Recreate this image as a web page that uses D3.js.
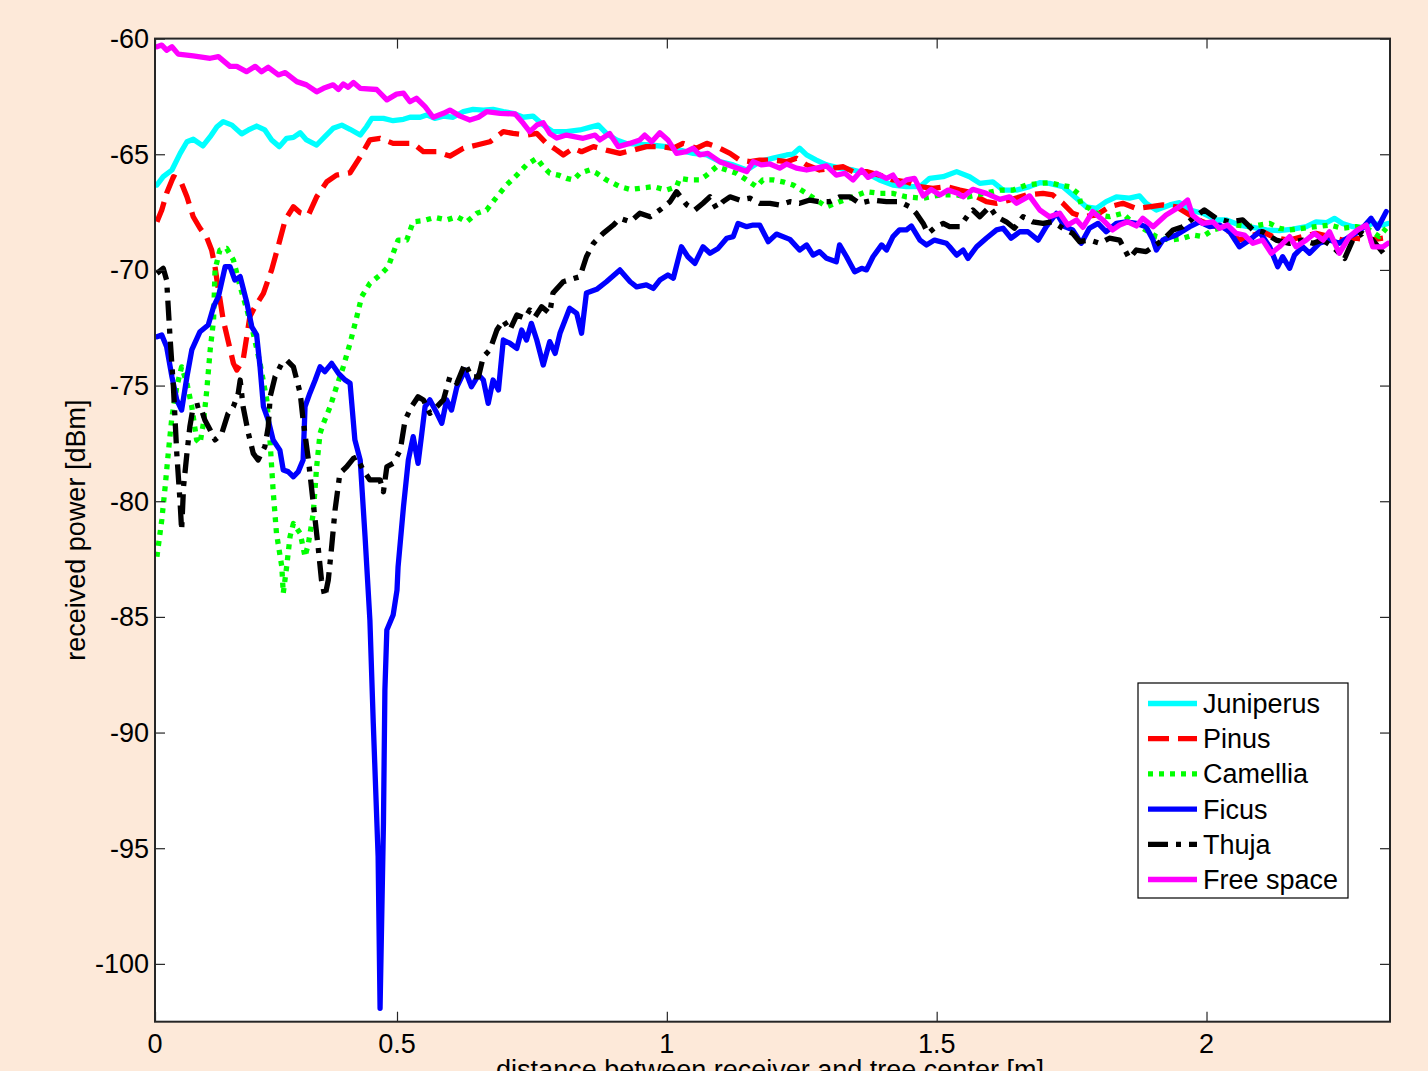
<!DOCTYPE html>
<html><head><meta charset="utf-8">
<script src="https://cdn.jsdelivr.net/npm/d3@7"></script>
<style>
html,body{margin:0;padding:0;background:#FDE9D9;}
svg{display:block;font-family:"Liberation Sans",Arial,Helvetica,sans-serif;}
</style></head>
<body>
<svg id="chart" width="1428" height="1071"></svg>
<script>
// ---- data (distance [m], received power [dBm]) ----
const xTicks = [0, 0.5, 1, 1.5, 2];
const xTickLabels = ["0", "0.5", "1", "1.5", "2"];
const yTicks = [-60, -65, -70, -75, -80, -85, -90, -95, -100];
const seriesNames = ["Juniperus", "Pinus", "Camellia", "Ficus", "Thuja", "Free space"];

const juniperus = [[0.004,-66.33],[0.017,-65.97],[0.035,-65.68],[0.052,-64.96],[0.066,-64.46],[0.079,-64.35],[0.099,-64.64],[0.114,-64.24],[0.128,-63.81],[0.141,-63.59],[0.159,-63.74],[0.179,-64.12],[0.193,-63.95],[0.210,-63.78],[0.227,-63.95],[0.241,-64.38],[0.257,-64.67],[0.272,-64.31],[0.286,-64.27],[0.300,-64.07],[0.313,-64.38],[0.334,-64.6],[0.351,-64.24],[0.368,-63.88],[0.386,-63.74],[0.403,-63.92],[0.424,-64.17],[0.437,-63.81],[0.448,-63.45],[0.472,-63.45],[0.492,-63.55],[0.512,-63.49],[0.524,-63.4],[0.543,-63.4],[0.555,-63.3],[0.570,-63.45],[0.586,-63.35],[0.604,-63.4],[0.623,-63.16],[0.641,-63.06],[0.660,-63.09],[0.678,-63.06],[0.697,-63.16],[0.715,-63.23],[0.734,-63.4],[0.752,-63.35],[0.771,-63.74],[0.789,-64.02],[0.814,-64.02],[0.839,-63.95],[0.857,-63.84],[0.873,-63.74],[0.888,-64.1],[0.907,-64.38],[0.925,-64.53],[0.944,-64.56],[0.969,-64.6],[0.999,-64.67],[1.024,-64.82],[1.049,-64.96],[1.074,-65.03],[1.098,-65.32],[1.123,-65.46],[1.148,-65.68],[1.172,-65.32],[1.197,-65.17],[1.222,-65.03],[1.234,-64.99],[1.246,-64.74],[1.259,-65.03],[1.277,-65.25],[1.296,-65.46],[1.320,-65.6],[1.345,-65.68],[1.370,-65.82],[1.394,-66.11],[1.419,-66.33],[1.444,-66.4],[1.469,-66.4],[1.487,-66.04],[1.512,-65.97],[1.537,-65.75],[1.561,-65.97],[1.580,-66.26],[1.604,-66.19],[1.623,-66.55],[1.648,-66.55],[1.672,-66.4],[1.691,-66.23],[1.709,-66.26],[1.734,-66.4],[1.759,-66.9],[1.777,-67.27],[1.796,-67.34],[1.814,-67.05],[1.833,-66.84],[1.857,-66.9],[1.876,-66.8],[1.888,-67.12],[1.907,-67.41],[1.932,-67.19],[1.950,-67.09],[1.969,-67.41],[1.993,-67.55],[2.018,-67.84],[2.037,-67.84],[2.061,-68.06],[2.086,-68.16],[2.111,-68.27],[2.135,-68.3],[2.160,-68.24],[2.185,-68.13],[2.203,-67.92],[2.222,-67.96],[2.237,-67.77],[2.252,-67.99],[2.271,-68.13],[2.289,-68.16],[2.308,-67.99],[2.327,-68.06],[2.336,-67.99]];

const pinus = [[0.004,-67.92],[0.014,-67.41],[0.024,-66.69],[0.038,-65.97],[0.052,-66.11],[0.066,-66.84],[0.079,-67.7],[0.093,-68.2],[0.107,-68.6],[0.117,-69.14],[0.124,-69.86],[0.128,-70.44],[0.141,-72.17],[0.162,-74.04],[0.169,-74.33],[0.182,-73.9],[0.196,-72.02],[0.203,-71.73],[0.224,-71.01],[0.241,-70.0],[0.258,-68.71],[0.269,-67.84],[0.286,-67.27],[0.300,-67.53],[0.317,-67.63],[0.334,-66.84],[0.355,-66.19],[0.375,-65.9],[0.403,-65.8],[0.424,-65.11],[0.444,-64.38],[0.465,-64.31],[0.492,-64.53],[0.512,-64.53],[0.530,-64.53],[0.549,-64.89],[0.574,-64.89],[0.598,-65.08],[0.623,-64.74],[0.648,-64.6],[0.672,-64.46],[0.697,-64.02],[0.715,-64.1],[0.740,-64.17],[0.759,-64.1],[0.777,-64.53],[0.796,-64.82],[0.808,-65.03],[0.827,-64.74],[0.842,-64.89],[0.864,-64.67],[0.888,-64.82],[0.913,-64.96],[0.938,-64.82],[0.962,-64.67],[0.987,-64.67],[1.012,-64.74],[1.030,-64.53],[1.055,-64.74],[1.074,-64.53],[1.092,-64.67],[1.117,-64.96],[1.135,-65.25],[1.154,-65.32],[1.172,-65.25],[1.197,-65.25],[1.222,-65.32],[1.240,-65.17],[1.259,-65.46],[1.283,-65.68],[1.308,-65.6],[1.327,-65.54],[1.345,-65.75],[1.370,-65.75],[1.394,-65.9],[1.419,-66.11],[1.444,-66.19],[1.469,-66.4],[1.493,-66.47],[1.518,-66.4],[1.543,-66.55],[1.558,-66.62],[1.574,-66.84],[1.592,-67.05],[1.611,-67.12],[1.635,-66.98],[1.666,-66.76],[1.697,-66.69],[1.715,-66.76],[1.734,-67.12],[1.752,-67.55],[1.771,-67.7],[1.796,-67.63],[1.820,-67.27],[1.845,-67.12],[1.870,-67.34],[1.894,-67.27],[1.919,-67.19],[1.944,-67.27],[1.969,-67.63],[1.993,-67.92],[2.018,-68.13],[2.043,-68.35],[2.061,-68.71],[2.080,-68.56],[2.104,-68.35],[2.129,-68.63],[2.154,-68.71],[2.178,-68.56],[2.203,-68.42],[2.228,-68.56],[2.252,-68.71],[2.277,-68.63],[2.302,-68.71],[2.327,-68.63]];

const camellia = [[0.004,-82.4],[0.014,-80.81],[0.021,-79.37],[0.028,-77.79],[0.035,-76.35],[0.045,-75.05],[0.055,-74.19],[0.066,-74.9],[0.076,-75.91],[0.086,-77.35],[0.093,-77.5],[0.100,-76.63],[0.107,-75.19],[0.114,-73.46],[0.121,-72.17],[0.124,-70.0],[0.134,-69.14],[0.148,-69.07],[0.162,-69.57],[0.176,-70.73],[0.190,-71.73],[0.203,-72.74],[0.217,-74.04],[0.231,-75.62],[0.238,-77.5],[0.244,-79.52],[0.251,-81.39],[0.262,-82.83],[0.265,-83.98],[0.272,-82.83],[0.279,-81.53],[0.286,-80.96],[0.300,-81.39],[0.310,-82.4],[0.317,-81.82],[0.327,-80.52],[0.334,-78.51],[0.341,-77.07],[0.348,-76.63],[0.362,-75.91],[0.375,-75.05],[0.389,-74.19],[0.403,-73.17],[0.417,-72.02],[0.427,-71.16],[0.444,-70.58],[0.465,-70.22],[0.482,-69.86],[0.492,-69.28],[0.502,-68.71],[0.518,-68.71],[0.530,-67.92],[0.549,-67.87],[0.570,-67.73],[0.592,-67.84],[0.611,-67.7],[0.629,-67.92],[0.648,-67.55],[0.666,-67.41],[0.685,-66.84],[0.703,-66.33],[0.722,-65.9],[0.740,-65.46],[0.759,-65.17],[0.771,-65.54],[0.783,-65.82],[0.799,-65.9],[0.814,-66.04],[0.827,-66.11],[0.839,-65.82],[0.857,-65.68],[0.870,-65.82],[0.888,-66.11],[0.913,-66.4],[0.932,-66.52],[0.950,-66.47],[0.975,-66.4],[0.999,-66.55],[1.018,-66.4],[1.024,-66.04],[1.043,-66.11],[1.061,-66.11],[1.074,-65.9],[1.092,-65.54],[1.111,-65.68],[1.129,-65.82],[1.148,-66.11],[1.166,-66.4],[1.178,-66.11],[1.197,-66.11],[1.215,-66.19],[1.234,-66.33],[1.259,-66.69],[1.277,-66.98],[1.296,-67.27],[1.320,-67.05],[1.345,-66.84],[1.370,-66.62],[1.394,-66.69],[1.419,-66.69],[1.444,-66.84],[1.475,-66.9],[1.506,-66.76],[1.537,-66.76],[1.558,-66.84],[1.587,-66.7],[1.617,-66.55],[1.641,-66.55],[1.666,-66.33],[1.691,-66.26],[1.709,-66.23],[1.728,-66.33],[1.746,-66.4],[1.762,-66.69],[1.768,-67.19],[1.783,-67.34],[1.802,-67.63],[1.820,-67.7],[1.845,-67.55],[1.864,-67.99],[1.882,-68.2],[1.907,-68.56],[1.932,-68.71],[1.956,-68.63],[1.975,-68.49],[1.993,-68.56],[2.012,-68.27],[2.037,-68.13],[2.055,-68.06],[2.080,-68.13],[2.098,-68.06],[2.117,-67.99],[2.135,-68.2],[2.154,-68.27],[2.178,-68.2],[2.203,-68.13],[2.228,-68.06],[2.252,-68.2],[2.277,-68.13],[2.302,-68.27],[2.320,-68.56],[2.333,-68.2]];

const ficus = [[0.004,-72.89],[0.014,-72.81],[0.024,-73.32],[0.035,-74.62],[0.045,-75.62],[0.055,-76.06],[0.066,-74.62],[0.076,-73.46],[0.093,-72.67],[0.110,-72.38],[0.121,-71.59],[0.131,-71.16],[0.145,-69.86],[0.155,-69.86],[0.165,-70.44],[0.176,-70.29],[0.190,-71.44],[0.200,-72.46],[0.210,-72.81],[0.217,-74.19],[0.224,-75.91],[0.234,-76.49],[0.244,-77.35],[0.258,-77.79],[0.265,-78.65],[0.275,-78.72],[0.286,-78.94],[0.296,-78.72],[0.306,-78.22],[0.310,-75.91],[0.320,-75.33],[0.331,-74.76],[0.341,-74.19],[0.351,-74.4],[0.365,-74.04],[0.379,-74.47],[0.393,-74.76],[0.403,-74.9],[0.413,-77.35],[0.424,-78.22],[0.434,-81.53],[0.444,-85.14],[0.451,-89.6],[0.461,-95.37],[0.465,-101.92],[0.472,-93.93],[0.475,-88.16],[0.479,-85.57],[0.492,-84.92],[0.500,-83.84],[0.502,-82.83],[0.512,-80.24],[0.521,-78.22],[0.530,-77.21],[0.539,-78.36],[0.546,-77.06],[0.552,-75.91],[0.561,-75.62],[0.574,-76.2],[0.583,-76.63],[0.592,-75.62],[0.601,-76.06],[0.611,-75.05],[0.626,-74.33],[0.638,-75.05],[0.651,-74.54],[0.660,-74.76],[0.669,-75.77],[0.678,-74.76],[0.688,-75.19],[0.697,-73.03],[0.709,-73.17],[0.722,-73.39],[0.731,-72.6],[0.740,-73.03],[0.749,-72.31],[0.759,-73.03],[0.771,-74.11],[0.783,-73.1],[0.793,-73.61],[0.802,-72.74],[0.820,-71.66],[0.833,-71.88],[0.842,-72.74],[0.851,-71.0],[0.870,-70.84],[0.888,-70.51],[0.913,-70.0],[0.932,-70.51],[0.944,-70.73],[0.962,-70.65],[0.975,-70.8],[0.987,-70.44],[1.002,-70.22],[1.012,-70.36],[1.027,-69.0],[1.039,-69.43],[1.052,-69.72],[1.067,-69.0],[1.080,-69.28],[1.095,-69.07],[1.111,-68.63],[1.123,-68.56],[1.132,-67.99],[1.148,-68.13],[1.160,-68.06],[1.172,-68.06],[1.188,-68.78],[1.203,-68.45],[1.228,-68.68],[1.246,-69.14],[1.259,-68.92],[1.271,-69.36],[1.283,-69.21],[1.296,-69.5],[1.314,-69.65],[1.320,-68.92],[1.333,-69.43],[1.348,-70.08],[1.361,-69.93],[1.370,-70.0],[1.382,-69.43],[1.398,-68.92],[1.407,-69.14],[1.419,-68.56],[1.431,-68.27],[1.444,-68.27],[1.453,-68.1],[1.469,-68.71],[1.481,-68.92],[1.496,-68.71],[1.518,-68.85],[1.524,-69.0],[1.537,-69.36],[1.549,-69.14],[1.558,-69.5],[1.574,-69.0],[1.592,-68.63],[1.611,-68.27],[1.623,-68.2],[1.638,-68.63],[1.654,-68.35],[1.669,-68.35],[1.688,-68.71],[1.703,-68.13],[1.722,-67.55],[1.737,-68.13],[1.752,-68.27],[1.768,-68.85],[1.783,-68.2],[1.799,-67.99],[1.814,-68.35],[1.833,-67.99],[1.851,-67.92],[1.870,-67.99],[1.888,-68.13],[1.901,-68.71],[1.907,-69.14],[1.919,-68.71],[1.944,-68.49],[1.969,-68.13],[1.987,-67.92],[2.006,-68.13],[2.024,-68.06],[2.043,-68.35],[2.061,-69.0],[2.080,-68.71],[2.098,-68.35],[2.117,-69.0],[2.132,-69.86],[2.141,-69.43],[2.154,-69.93],[2.163,-69.36],[2.178,-69.0],[2.191,-69.28],[2.209,-68.85],[2.228,-68.71],[2.246,-68.85],[2.265,-68.56],[2.283,-68.35],[2.305,-67.77],[2.317,-68.2],[2.333,-67.48]];

const thuja = [[0.004,-70.15],[0.017,-69.93],[0.024,-70.44],[0.031,-72.89],[0.038,-75.05],[0.045,-77.93],[0.052,-80.09],[0.055,-81.25],[0.059,-79.37],[0.066,-77.93],[0.072,-76.78],[0.079,-75.91],[0.093,-75.84],[0.103,-76.49],[0.114,-76.92],[0.124,-77.35],[0.138,-77.07],[0.151,-76.2],[0.162,-75.91],[0.172,-75.33],[0.176,-74.76],[0.182,-75.91],[0.193,-77.07],[0.203,-77.93],[0.213,-78.22],[0.227,-77.64],[0.234,-76.78],[0.238,-75.48],[0.248,-74.62],[0.262,-74.04],[0.272,-73.9],[0.286,-74.19],[0.300,-75.33],[0.306,-76.49],[0.317,-78.22],[0.327,-80.09],[0.337,-81.97],[0.344,-83.41],[0.351,-84.13],[0.358,-83.41],[0.365,-81.97],[0.372,-80.38],[0.382,-78.79],[0.396,-78.51],[0.410,-78.15],[0.417,-78.08],[0.430,-78.65],[0.444,-79.08],[0.465,-79.08],[0.472,-79.59],[0.479,-78.51],[0.492,-78.36],[0.506,-77.79],[0.515,-76.49],[0.527,-75.91],[0.539,-75.48],[0.549,-75.62],[0.561,-76.2],[0.574,-75.91],[0.586,-75.62],[0.598,-74.62],[0.611,-74.9],[0.626,-74.04],[0.638,-74.62],[0.651,-74.62],[0.660,-73.75],[0.672,-73.46],[0.685,-72.6],[0.697,-72.17],[0.709,-72.6],[0.722,-71.95],[0.737,-72.09],[0.746,-71.73],[0.756,-72.02],[0.768,-71.59],[0.783,-71.88],[0.789,-71.0],[0.808,-70.51],[0.839,-70.29],[0.851,-69.43],[0.864,-68.85],[0.882,-68.42],[0.901,-68.06],[0.913,-67.77],[0.932,-67.92],[0.950,-67.55],[0.969,-67.7],[0.987,-67.41],[1.006,-67.05],[1.018,-66.62],[1.037,-67.19],[1.052,-67.41],[1.067,-67.12],[1.080,-66.84],[1.092,-67.34],[1.104,-67.05],[1.117,-66.84],[1.135,-66.98],[1.154,-66.9],[1.172,-67.12],[1.191,-67.12],[1.209,-67.19],[1.228,-67.05],[1.246,-67.12],[1.265,-66.98],[1.283,-67.05],[1.302,-67.05],[1.320,-66.84],[1.339,-66.84],[1.357,-67.12],[1.382,-66.98],[1.407,-67.05],[1.431,-67.05],[1.450,-67.27],[1.462,-67.55],[1.475,-67.99],[1.484,-68.42],[1.499,-68.13],[1.512,-67.99],[1.524,-68.13],[1.543,-68.13],[1.558,-67.63],[1.567,-67.41],[1.580,-67.7],[1.598,-67.27],[1.611,-67.7],[1.629,-67.92],[1.644,-68.2],[1.660,-67.7],[1.678,-67.92],[1.697,-67.99],[1.715,-67.92],[1.734,-68.2],[1.752,-68.42],[1.765,-68.78],[1.783,-68.71],[1.802,-68.85],[1.820,-68.63],[1.839,-68.71],[1.857,-69.5],[1.870,-69.14],[1.888,-69.21],[1.901,-69.0],[1.919,-68.71],[1.938,-68.27],[1.956,-68.13],[1.975,-67.77],[1.996,-67.41],[2.018,-67.77],[2.043,-67.92],[2.067,-67.84],[2.086,-68.27],[2.104,-68.35],[2.129,-68.71],[2.154,-68.85],[2.178,-68.71],[2.197,-68.85],[2.215,-68.71],[2.234,-69.0],[2.256,-69.5],[2.271,-68.71],[2.289,-68.42],[2.308,-68.71],[2.333,-69.43]];

const freeSpace = [[0.004,-60.35],[0.014,-60.28],[0.024,-60.5],[0.035,-60.35],[0.048,-60.67],[0.079,-60.75],[0.114,-60.85],[0.131,-60.78],[0.155,-61.2],[0.169,-61.2],[0.189,-61.43],[0.207,-61.2],[0.220,-61.43],[0.234,-61.24],[0.255,-61.57],[0.269,-61.47],[0.293,-61.86],[0.313,-62.0],[0.334,-62.3],[0.348,-62.15],[0.368,-62.0],[0.379,-62.2],[0.389,-61.96],[0.399,-62.1],[0.410,-61.9],[0.424,-62.15],[0.458,-62.2],[0.479,-62.65],[0.499,-62.4],[0.512,-62.36],[0.524,-62.73],[0.536,-62.58],[0.552,-62.94],[0.567,-63.4],[0.586,-63.23],[0.598,-63.09],[0.617,-63.35],[0.635,-63.52],[0.651,-63.4],[0.666,-63.16],[0.691,-63.23],[0.719,-63.26],[0.734,-63.66],[0.746,-64.02],[0.759,-63.74],[0.771,-63.64],[0.783,-64.1],[0.796,-64.3],[0.814,-64.17],[0.845,-64.31],[0.867,-64.17],[0.876,-64.38],[0.894,-64.1],[0.910,-64.67],[0.931,-64.53],[0.950,-64.38],[0.959,-64.17],[0.972,-64.46],[0.987,-64.07],[1.002,-64.38],[1.018,-64.96],[1.036,-64.89],[1.049,-64.74],[1.061,-65.03],[1.076,-64.96],[1.098,-65.32],[1.123,-65.54],[1.148,-65.75],[1.160,-65.32],[1.175,-65.46],[1.191,-65.42],[1.209,-65.6],[1.222,-65.42],[1.240,-65.6],[1.259,-65.68],[1.277,-65.6],[1.296,-65.5],[1.314,-65.9],[1.330,-65.82],[1.345,-66.11],[1.361,-65.68],[1.373,-66.0],[1.388,-65.82],[1.407,-66.04],[1.419,-65.9],[1.431,-66.33],[1.444,-66.11],[1.459,-66.04],[1.475,-66.8],[1.490,-66.52],[1.506,-66.76],[1.521,-66.55],[1.539,-66.69],[1.549,-66.84],[1.567,-66.52],[1.592,-66.69],[1.617,-66.95],[1.635,-66.84],[1.648,-67.12],[1.672,-66.8],[1.691,-67.41],[1.709,-67.7],[1.728,-67.55],[1.743,-68.06],[1.759,-67.84],[1.771,-68.16],[1.789,-67.48],[1.808,-67.84],[1.826,-68.27],[1.839,-68.06],[1.854,-67.92],[1.870,-68.1],[1.882,-67.77],[1.901,-68.13],[1.925,-67.63],[1.950,-67.27],[1.965,-66.98],[1.974,-67.63],[1.993,-67.99],[2.012,-67.92],[2.024,-68.2],[2.039,-68.06],[2.055,-68.42],[2.070,-68.49],[2.086,-68.85],[2.104,-68.71],[2.120,-69.28],[2.135,-69.0],[2.154,-68.56],[2.166,-69.0],[2.185,-68.71],[2.200,-68.42],[2.216,-68.71],[2.228,-68.35],[2.246,-69.28],[2.265,-68.56],[2.280,-68.27],[2.296,-68.06],[2.308,-69.0],[2.327,-69.0],[2.336,-68.85]];

// ---- layout / style ----
const L = 155, R = 1390, T = 38.6, B = 1021.7;
const styles = [
  {data: juniperus, color: "#00FFFF", dash: null},
  {data: pinus,     color: "#FF0000", dash: "21,9"},
  {data: camellia,  color: "#00FF00", dash: "5,6"},
  {data: ficus,     color: "#0000FF", dash: null},
  {data: thuja,     color: "#000000", dash: "20,8,5,8"},
  {data: freeSpace, color: "#FF00FF", dash: null}
];

const svg = d3.select("#chart");
// piecewise x scale: the reference's 0 tick sits closer to 0.5 than the rest of the spacing
const x = d3.scaleLinear().domain([0, 0.5, 2.34]).range([L, 397, R]);
const y = d3.scaleLinear().domain([-102.5, -60]).range([B, T]);

svg.append("rect").attr("x", L).attr("y", T).attr("width", R - L).attr("height", B - T).attr("fill", "#fff");

svg.append("defs").append("clipPath").attr("id", "clip")
  .append("rect").attr("x", L).attr("y", T).attr("width", R - L).attr("height", B - T);

const line = d3.line().x(d => x(d[0])).y(d => y(d[1]));
const g = svg.append("g").attr("clip-path", "url(#clip)");
styles.forEach(s => {
  g.append("path").datum(s.data)
    .attr("d", line)
    .attr("fill", "none")
    .attr("stroke", s.color)
    .attr("stroke-width", 5.3)
    .attr("stroke-linejoin", "round")
    .attr("stroke-linecap", s.dash ? "butt" : "round")
    .attr("stroke-dasharray", s.dash);
});

// axes (MATLAB-like: inward ticks on all four sides)
const axisColor = "#262626";
const fontSize = 27;
const yAxisL = svg.append("g").attr("transform", `translate(${L},0)`)
  .call(d3.axisRight(y).tickValues(yTicks).tickSize(10).tickFormat(""));
const yAxisR = svg.append("g").attr("transform", `translate(${R},0)`)
  .call(d3.axisLeft(y).tickValues(yTicks).tickSize(10).tickFormat(""));
const xAxisB = svg.append("g").attr("transform", `translate(0,${B})`)
  .call(d3.axisTop(x).tickValues(xTicks).tickSize(10).tickFormat(""));
const xAxisT = svg.append("g").attr("transform", `translate(0,${T})`)
  .call(d3.axisBottom(x).tickValues(xTicks).tickSize(10).tickFormat(""));
[yAxisL, yAxisR, xAxisB, xAxisT].forEach(a => {
  a.select(".domain").remove();
  a.selectAll(".tick line").attr("stroke", axisColor).attr("stroke-width", 1.2);
});

// tick labels
svg.append("g").selectAll("text").data(yTicks).join("text")
  .attr("x", L - 6).attr("y", d => y(d)).attr("dy", "0.35em")
  .attr("text-anchor", "end").attr("font-size", fontSize).attr("fill", "#000")
  .text(d => d);
svg.append("g").selectAll("text").data(xTicks).join("text")
  .attr("x", d => x(d)).attr("y", 1053)
  .attr("text-anchor", "middle").attr("font-size", fontSize).attr("fill", "#000")
  .text((d, i) => xTickLabels[i]);

// box
svg.append("rect").attr("x", L).attr("y", T).attr("width", R - L).attr("height", B - T)
  .attr("fill", "none").attr("stroke", axisColor).attr("stroke-width", 2);

// axis labels
svg.append("text").attr("transform", `translate(85,${(T + B) / 2}) rotate(-90)`)
  .attr("text-anchor", "middle").attr("font-size", fontSize).attr("fill", "#000")
  .text("received power [dBm]");
svg.append("text").attr("x", 770).attr("y", 1079)
  .attr("text-anchor", "middle").attr("font-size", fontSize).attr("fill", "#000")
  .text("distance between receiver and tree center [m]");

// legend
const lg = svg.append("g");
lg.append("rect").attr("x", 1138).attr("y", 683).attr("width", 210).attr("height", 215)
  .attr("fill", "#fff").attr("stroke", "#000").attr("stroke-width", 1.2);
seriesNames.forEach((name, i) => {
  const yy = 703.5 + i * 35.2;
  lg.append("line").attr("x1", 1148).attr("x2", 1197).attr("y1", yy).attr("y2", yy)
    .attr("stroke", styles[i].color).attr("stroke-width", 5.3)
    .attr("stroke-dasharray", styles[i].dash);
  lg.append("text").attr("x", 1203).attr("y", yy).attr("dy", "0.35em")
    .attr("font-size", fontSize).attr("fill", "#000").text(name);
});
</script>
</body></html>
